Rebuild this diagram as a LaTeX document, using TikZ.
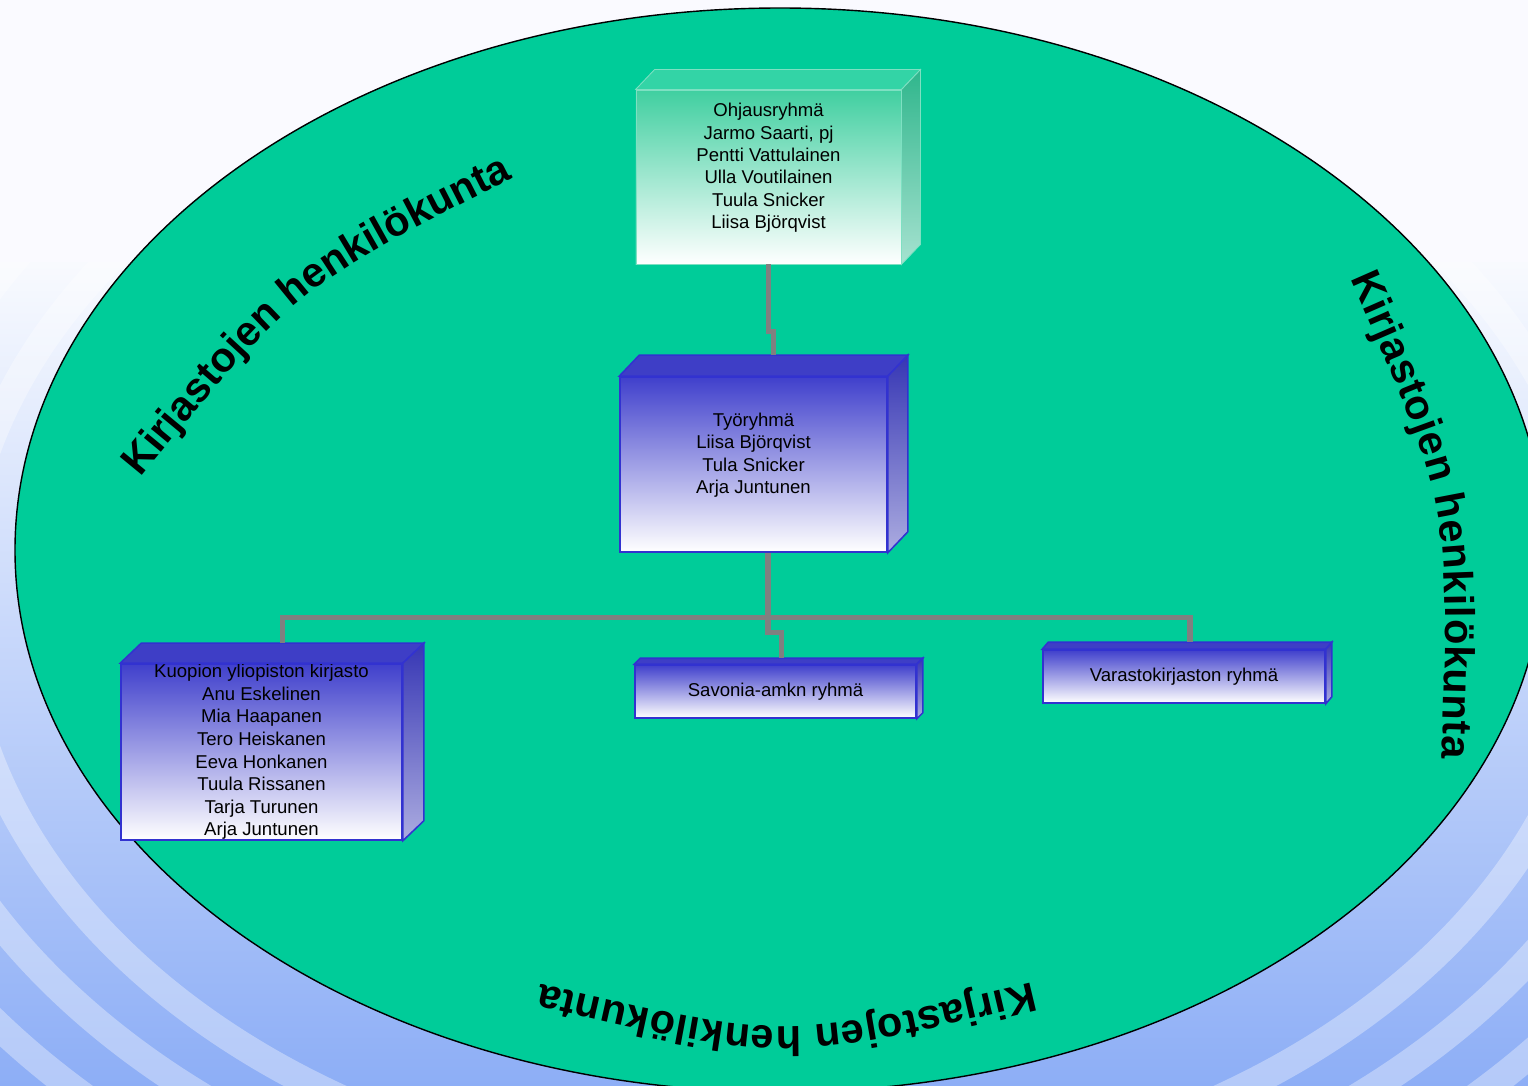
\documentclass[tikz,border=0pt]{standalone}
\usepackage{fontspec}
\setmainfont{Liberation Sans}
\newfontfamily\ringfont{Liberation Sans Bold}
\usetikzlibrary{positioning,calc,decorations.text}
\definecolor{ringfill}{HTML}{00CC99}
\definecolor{linkgray}{HTML}{808080}
\definecolor{waterblue}{HTML}{8DAEF6}
\definecolor{cubeblue}{HTML}{4040CC}
\definecolor{cubeedge}{HTML}{3232D0}
\definecolor{bluesidetop}{HTML}{3636B4}
\definecolor{bluesidebot}{HTML}{ACACE0}
\definecolor{cubeteal}{HTML}{40CFA0}
\definecolor{tealtopc}{HTML}{33D4A6}
\definecolor{tealsidetop}{HTML}{2FB68C}
\definecolor{tealsidebot}{HTML}{A6E2D0}
\definecolor{tealedge}{HTML}{7EE0C2}
\tikzset{
  link/.style={draw=linkgray, line width=3.6pt},
  ringtext/.style={decorate, decoration={text along path, text align={fit to path},
      text={|\ringfont\fontsize{29.5}{34}\selectfont|#1}}},
}
% top and right faces of a box drawn behind the front node
\newcommand{\cubefaces}[5]{%
  \path[#4] (#1.north west) -- ++(#2,-#3) -- ([shift={(#2,-#3)}]#1.north east) -- (#1.north east) -- cycle;
  \path[#5] (#1.north east) -- ([shift={(#2,-#3)}]#1.north east) -- ([shift={(#2,-#3)}]#1.south east) -- (#1.south east) -- cycle;
}

\begin{document}
\begin{tikzpicture}[x=0.025cm, y=-0.025cm,
  cube/.style={minimum width=#1, minimum height=1.325cm, inner xsep=2pt, inner ysep=0pt,
               align=center, font=\fontsize{13.2}{15.9}\selectfont},
  blueface/.style={draw=cubeedge, line width=1.1pt, top color=cubeblue, bottom color=white},
  bluetop/.style={fill=cubeblue!97!black, draw=cubeedge, line width=1.1pt},
  blueside/.style={top color=bluesidetop, bottom color=bluesidebot, draw=cubeedge, line width=1.1pt},
  tealface/.style={draw=tealedge, line width=0.6pt, top color=cubeteal, bottom color=white},
  tealtop/.style={fill=tealtopc, draw=tealedge, line width=0.6pt},
  tealside/.style={top color=tealsidetop, bottom color=tealsidebot, draw=tealedge, line width=0.6pt}]

% ---- background ----
\useasboundingbox (0,0) rectangle (1528,1086);
\clip (0,0) rectangle (1528,1086);
\fill[white!98!blue] (0,0) rectangle (1528,1086);
\begin{scope}
  \clip (0,262) rectangle (1528,1086);
  \shade[top color=white!94!waterblue, bottom color=waterblue] (0,262) rectangle (1528,1086);
  \foreach \r in {820,900,...,1380}
    \draw[white, opacity=0.35, line width=7mm] (780,600) ellipse [x radius=\r, y radius=0.72*\r];
\end{scope}

% ---- staff ring ----
\draw[line width=1pt, fill=ringfill] (780,550) ellipse [x radius=765, y radius=542];
\path[ringtext={Kirjastojen henkilökunta}] (140,478) .. controls (296,288) .. (513,178);
\path[ringtext={Kirjastojen henkilökunta}] (1350,278) .. controls (1450,505) .. (1442,758);
\path[ringtext={Kirjastojen henkilökunta}] (1032,982) .. controls (785,1041) .. (541,984);

% ---- steering group ----
\node[cube=6.625cm, minimum height=4.35cm, tealface] (ohj) at (768.5,177)
  {Ohjausryhmä\\Jarmo Saarti, pj\\Pentti Vattulainen\\Ulla Voutilainen\\Tuula Snicker\\Liisa Björqvist\\\mbox{}};
\cubefaces{ohj}{19}{20}{tealtop}{tealside}

% ---- working group ----
\node[cube=6.675cm, minimum height=4.375cm, blueface] (tyo) at (753.5,464.5)
  {Työryhmä\\Liisa Björqvist\\Tula Snicker\\Arja Juntunen\\\mbox{}};
\cubefaces{tyo}{20}{21}{bluetop}{blueside}

% ---- library groups ----
\node[cube=7.025cm, minimum height=4.4cm, blueface, font=\fontsize{13.2}{16.05}\selectfont] (kyk) at (261.5,752)
  {Kuopion yliopiston kirjasto\\Anu Eskelinen\\Mia Haapanen\\Tero Heiskanen\\Eeva Honkanen\\Tuula Rissanen\\Tarja Turunen\\Arja Juntunen};
\cubefaces{kyk}{21}{20}{bluetop}{blueside}
\node[cube=7.025cm, blueface] (sav) at (775.5,691.5) {Savonia-amkn ryhmä};
\cubefaces{sav}{6}{6}{bluetop}{blueside}
\node[cube=7.05cm, blueface] (var) at (1184,676.5) {Varastokirjaston ryhmä};
\cubefaces{var}{6}{7}{bluetop}{blueside}

% ---- links ----
\coordinate (tyo-top) at ([shift={(20,-21)}]tyo.north);
\coordinate (tyo-foot) at ([shift={(14.5,0)}]tyo.south);
\coordinate (kyk-top) at ([shift={(21,-20)}]kyk.north);
\coordinate (sav-top) at ([shift={(6,-6)}]sav.north);
\coordinate (var-top) at ([shift={(6,-7)}]var.north);
\draw[link] (ohj.south) -- ++(0,67) -| (tyo-top);
\draw[link] (kyk-top) -- ++(0,-26) -| (var-top);
\draw[link] (tyo-foot) -- ++(0,80) -| (sav-top);

\end{tikzpicture}
\end{document}
